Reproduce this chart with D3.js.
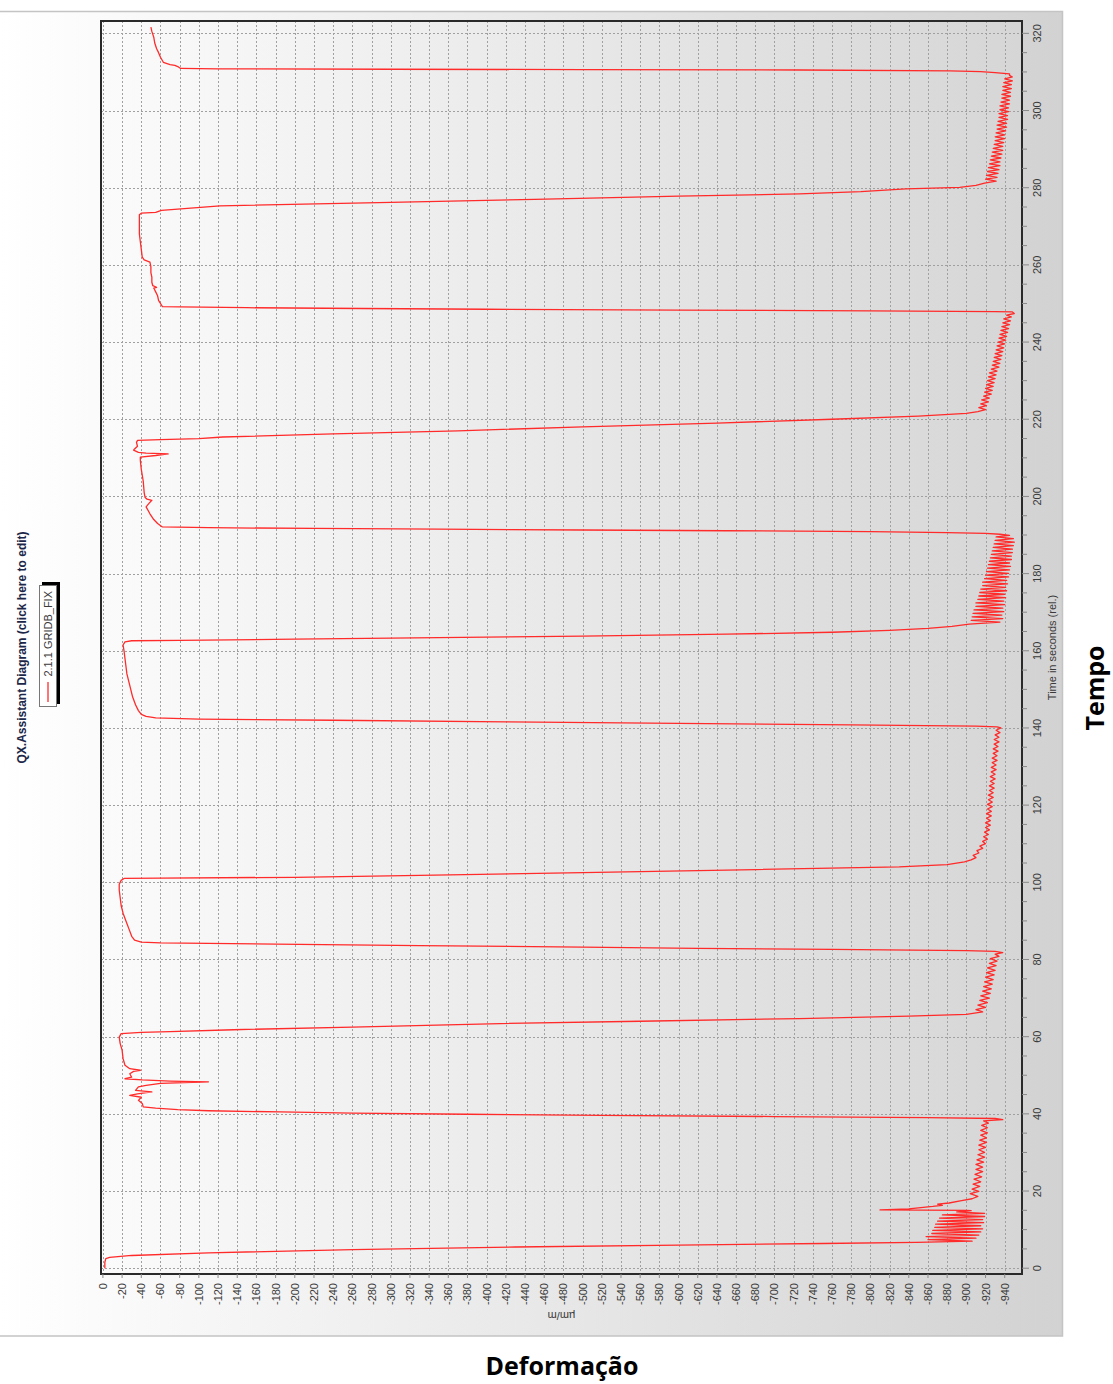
<!DOCTYPE html>
<html>
<head>
<meta charset="utf-8">
<script src="https://cdn.jsdelivr.net/npm/d3@7"></script>
<style>
  body { margin: 0; background: #fff; }
  svg { display: block; font-family: "Liberation Sans", Arial, sans-serif; }
</style>
</head>
<body>
<svg id="chart" width="1113" height="1384"></svg>
<script>
"use strict";

// ticks
const timeTicks = d3.range(0, 321, 20);
const timeMinorTicks = d3.range(0, 321, 5);
const strainTicks = d3.range(0, -941, -20);

// series 2.1.1 GRIDB_FIX : [time in s, strain in µm/m]
const gridbFix = [
  [0.0,-2],[1.5,-2],[2.5,-3],[2.8,-7],[3.3,-30],[4.0,-110],[4.8,-260],[5.5,-430],[6.0,-600],[6.4,-750],[6.7,-848],
  [7.0,-906],[7.4,-860],[7.8,-910],[8.2,-858],[8.6,-913],[9.0,-864],[9.4,-915],[9.8,-865],[10.2,-917],[10.6,-867],
  [11.0,-915],[11.4,-868],[11.8,-918],[12.2,-870],[12.6,-917],[13.0,-872],[13.4,-919],[13.8,-875],[14.2,-919],[14.6,-890],[14.9,-905],
  [15.0,-900],[15.1,-810],[15.4,-840],[16.0,-865],[16.3,-875],[16.6,-870],[16.9,-882],[17.5,-895],[18.0,-906],
  [18.6,-912],[19.3,-904],[19.9,-913],[20.5,-906],[21.2,-914],[21.8,-907],[22.4,-915],[23.1,-908],[23.7,-916],[24.3,-909],
  [25.0,-917],[25.6,-910],[26.2,-917],[26.9,-910],[27.5,-918],[28.1,-911],[28.8,-919],[29.4,-912],[30.0,-919],[30.7,-913],
  [31.3,-920],[31.9,-913],[32.6,-921],[33.2,-914],[33.8,-921],[34.5,-915],[35.1,-922],[35.7,-915],[36.4,-922],[37.0,-916],
  [37.6,-923],[38.2,-918],[38.5,-938],[38.8,-930],
  [39.0,-860],[39.3,-700],[39.6,-520],[39.9,-380],[40.2,-260],[40.5,-185],[40.8,-110],[41.1,-78],[41.5,-55],[41.8,-42],
  [42.7,-41],[43.5,-37],[44.3,-40],[44.8,-28],[45.2,-36],[45.7,-51],[46.1,-34],[47.0,-37],[47.4,-45],[47.9,-60],
  [48.3,-110],[48.5,-70],[48.8,-41],[49.1,-23],[49.5,-30],[50.4,-28],[51.0,-32],[51.3,-39],[51.7,-28],[52.6,-23],
  [54.3,-21],[56.5,-20],[58.2,-18],[59.9,-17],[60.8,-19],
  [61.1,-40],[61.3,-70],[61.8,-136],[62.5,-260],[63.4,-414],[64.0,-560],[64.7,-726],[65.3,-840],[65.8,-900],[66.4,-917],
  [67.0,-910],[67.6,-920],[68.2,-912],[68.8,-922],[69.4,-914],[70.0,-924],[70.6,-915],[71.2,-925],[71.8,-917],[72.4,-926],
  [73.0,-918],[73.6,-927],[74.2,-919],[74.8,-928],[75.4,-920],[76.0,-929],[76.6,-921],[77.2,-930],[77.8,-922],[78.4,-931],
  [79.0,-924],[79.6,-932],[80.2,-925],[80.8,-934],[81.4,-930],[81.8,-938],[82.1,-930],
  [82.3,-900],[82.6,-760],[82.9,-620],[83.2,-500],[83.6,-330],[84.0,-180],[84.3,-60],[84.5,-40],
  [85.0,-33],[86.0,-30],[88.0,-27],[90.0,-24],[92.0,-21],[94.0,-19],[96.0,-18],[98.0,-17],[99.5,-17],[100.5,-19],[101.0,-22],
  [101.1,-60],[101.3,-200],[101.8,-330],[102.5,-500],[103.3,-680],[104.0,-830],[104.6,-880],[105.3,-898],[105.8,-905],
  [106.4,-910],[107.0,-907],[107.6,-913],[108.2,-911],[108.8,-917],[109.4,-914],[110.0,-920],[110.6,-917],[111.2,-922],[111.8,-918],
  [112.4,-923],[113.0,-919],[113.6,-924],[114.2,-920],[114.8,-925],[115.4,-920],[116.0,-925],[116.6,-921],[117.2,-926],[117.8,-921],
  [118.4,-926],[119.0,-922],[119.6,-927],[120.2,-922],[120.8,-927],[121.4,-923],[122.0,-928],[122.6,-923],[123.2,-928],[123.8,-924],
  [124.4,-929],[125.0,-924],[125.6,-929],[126.2,-925],[126.8,-930],[127.4,-925],[128.0,-930],[128.6,-926],[129.2,-931],[129.8,-926],
  [130.4,-931],[131.0,-927],[131.6,-932],[132.2,-927],[132.8,-932],[133.4,-928],[134.0,-933],[134.6,-928],[135.2,-933],[135.8,-929],
  [136.4,-934],[137.0,-929],[137.6,-934],[138.2,-930],[138.8,-935],[139.4,-931],[140.0,-936],[140.3,-932],
  [140.5,-910],[140.8,-780],[141.2,-600],[141.6,-420],[142.0,-240],[142.3,-100],[142.6,-55],
  [143.0,-45],[143.5,-40],[144.5,-37],[146.0,-34],[148.0,-31],[150.0,-29],[152.0,-27],[154.0,-25],[156.0,-24],
  [158.0,-23],[160.0,-22],[161.5,-21],[162.3,-23],[162.6,-30],
  [162.7,-80],[163.0,-200],[163.4,-350],[163.8,-500],[164.3,-650],[164.8,-760],[165.3,-820],[165.8,-860],[166.3,-885],[166.9,-903],
  [167.45,-935],[167.9,-905],[168.35,-938],[168.8,-906],[169.25,-937],[169.7,-907],[170.15,-939],[170.6,-908],[171.05,-938],[171.5,-910],
  [171.95,-940],[172.4,-910],[172.85,-939],[173.3,-912],[173.75,-941],[174.2,-913],[174.65,-940],[175.1,-914],[175.55,-942],[176.0,-915],
  [176.45,-941],[176.9,-917],[177.35,-943],[177.8,-917],[178.25,-942],[178.7,-919],[179.15,-944],[179.6,-920],[180.05,-944],[180.5,-921],
  [180.95,-945],[181.4,-922],[181.85,-946],[182.3,-923],[182.75,-945],[183.2,-924],[183.65,-947],[184.1,-925],[184.55,-947],[185.0,-926],
  [185.45,-948],[185.9,-927],[186.35,-948],[186.8,-928],[187.25,-949],[187.7,-929],[188.15,-950],[188.6,-930],[189.05,-949],[189.5,-931],
  [189.9,-945],[190.2,-935],
  [190.4,-920],[190.6,-880],[190.9,-800],[191.1,-650],[191.3,-500],[191.5,-350],[191.7,-220],[191.9,-110],[192.1,-62],
  [193.0,-57],[194.0,-53],[195.5,-49],[197.3,-45],[198.2,-48],[199.0,-51],[199.3,-46],[199.7,-44],[201.0,-43],[204.0,-42],
  [207.0,-40],[209.3,-39],[210.2,-39],[210.6,-55],[211.0,-68],[211.2,-45],[211.4,-37],[212.0,-32],[212.3,-33],[213.0,-36],
  [214.0,-35],[214.5,-36],
  [214.7,-60],[215.0,-100],[215.4,-125],[216.2,-240],[217.0,-370],[218.0,-500],[219.0,-640],[220.0,-760],[220.8,-850],[221.5,-900],[222.0,-912],
  [222.5,-920],[223.0,-913],[223.5,-921],[224.0,-915],[224.5,-923],[225.0,-916],[225.5,-924],[226.0,-918],[226.5,-926],[227.0,-919],
  [227.5,-927],[228.0,-920],[228.5,-928],[229.0,-921],[229.5,-929],[230.0,-922],[230.5,-930],[231.0,-923],[231.5,-931],[232.0,-924],
  [232.5,-932],[233.0,-926],[233.5,-934],[234.0,-927],[234.5,-935],[235.0,-928],[235.5,-936],[236.0,-929],[236.5,-937],[237.0,-930],
  [237.5,-938],[238.0,-931],[238.5,-939],[239.0,-932],[239.5,-940],[240.0,-933],[240.5,-941],[241.0,-934],[241.5,-942],[242.0,-935],
  [242.5,-943],[243.0,-936],[243.5,-944],[244.0,-937],[244.5,-945],[245.0,-938],[245.5,-946],[246.0,-939],[246.5,-947],[247.0,-942],
  [247.4,-950],[247.8,-948],
  [247.9,-930],[248.1,-800],[248.3,-600],[248.5,-400],[248.7,-270],[248.9,-150],[249.1,-80],[249.2,-62],
  [250.0,-60],[250.8,-58],[252.0,-57],[253.0,-55],[254.0,-53],[254.2,-56],[254.6,-52],[255.5,-51],[256.8,-51],[258.0,-50],
  [259.5,-50],[260.7,-49],[261.3,-43],[262.0,-41],[264.0,-40],[266.0,-39],[268.0,-38],[270.0,-38],[272.0,-38],[273.0,-38],[273.4,-40],
  [273.6,-55],[274.1,-61],[275.3,-122],[276.2,-300],[277.0,-450],[277.8,-600],[278.4,-726],[279.0,-790],[279.7,-837],[280.1,-893],
  [280.6,-910],[281.2,-919],
  [281.7,-931],[282.2,-920],[282.7,-932],[283.2,-921],[283.7,-933],[284.2,-922],[284.7,-934],[285.2,-923],[285.7,-935],[286.2,-924],
  [286.7,-935],[287.2,-925],[287.7,-936],[288.2,-926],[288.7,-937],[289.2,-927],[289.7,-938],[290.2,-928],[290.7,-938],[291.2,-929],
  [291.7,-939],[292.2,-930],[292.7,-940],[293.2,-930],[293.7,-940],[294.2,-931],[294.7,-941],[295.2,-932],[295.7,-942],[296.2,-932],
  [296.7,-942],[297.2,-933],[297.7,-943],[298.2,-934],[298.7,-943],[299.2,-934],[299.7,-944],[300.2,-935],[300.7,-944],[301.2,-935],
  [301.7,-945],[302.2,-936],[302.7,-945],[303.2,-937],[303.7,-946],[304.2,-937],[304.7,-946],[305.2,-938],[305.7,-947],[306.2,-938],
  [306.7,-947],[307.2,-939],[307.7,-948],[308.2,-940],[308.7,-948],[309.1,-945],
  [309.5,-945],[309.8,-930],[310.1,-915],[310.3,-883],[310.5,-727],[310.6,-500],[310.7,-300],[310.8,-120],[310.9,-81],
  [311.4,-78],[311.7,-75],[311.9,-70],[312.5,-63],[313.8,-60],[315.0,-58],[316.0,-56],[317.5,-54],[319.0,-53],[320.5,-51],[321.6,-50]
];



// setting
const setting = {
  panel: { x: 0, y: 11, width: 1063, height: 1325 },
  plot: { left: 101, right: 1022, top: 21, bottom: 1274 },
  lineColor: "#ff2a2a",
  textColor: "#3a3a3a"
};

let svg = d3.select("#chart");
let defs = svg.append("defs");



// gradients
let gPanel = defs.append("linearGradient")
  .attr("id", "panelGrad")
  .attr("x1", "0%").attr("x2", "100%").attr("y1", "0%").attr("y2", "0%");
gPanel.append("stop").attr("offset", "0%").attr("stop-color", "#ffffff");
gPanel.append("stop").attr("offset", "100%").attr("stop-color", "#d2d2d2");

let gPlot = defs.append("linearGradient")
  .attr("id", "plotGrad")
  .attr("x1", "0%").attr("x2", "100%").attr("y1", "0%").attr("y2", "0%");
gPlot.append("stop").attr("offset", "0%").attr("stop-color", "#fbfbfb");
gPlot.append("stop").attr("offset", "100%").attr("stop-color", "#d6d6d6");

defs.append("clipPath")
  .attr("id", "plotClip")
  .append("rect")
  .attr("x", setting.plot.left)
  .attr("y", setting.plot.top)
  .attr("width", setting.plot.right - setting.plot.left)
  .attr("height", setting.plot.bottom - setting.plot.top);



// panel
svg.append("rect")
  .attr("x", setting.panel.x)
  .attr("y", setting.panel.y)
  .attr("width", setting.panel.width)
  .attr("height", setting.panel.height)
  .attr("fill", "url(#panelGrad)");

svg.append("path")
  .attr("d", `M${setting.panel.x},${setting.panel.y + 0.5}H${setting.panel.x + setting.panel.width - 0.5}V${setting.panel.y + setting.panel.height}H${setting.panel.x}`)
  .attr("fill", "none")
  .attr("stroke", "#c4c4c4")
  .attr("stroke-width", 1.5);



// scales
let scaleX = d3.scaleLinear()
  .domain([2, -958])
  .range([setting.plot.left, setting.plot.right]);

let scaleY = d3.scaleLinear()
  .domain([-1.5, 323.2])
  .range([setting.plot.bottom, setting.plot.top]);



// plot background
svg.append("rect")
  .attr("x", setting.plot.left)
  .attr("y", setting.plot.top)
  .attr("width", setting.plot.right - setting.plot.left)
  .attr("height", setting.plot.bottom - setting.plot.top)
  .attr("fill", "url(#plotGrad)");



// grid lines
let grid = svg.append("g").attr("class", "grid").attr("clip-path", "url(#plotClip)");

grid.selectAll("line.vGrid")
  .data(strainTicks)
  .join("line")
  .attr("class", "vGrid")
  .attr("x1", d => Math.round(scaleX(d)) + 0.5)
  .attr("x2", d => Math.round(scaleX(d)) + 0.5)
  .attr("y1", setting.plot.top)
  .attr("y2", setting.plot.bottom)
  .attr("stroke", "#a0a0a0")
  .attr("stroke-width", 1)
  .attr("stroke-dasharray", "2,2");

grid.selectAll("line.hGrid")
  .data(timeTicks)
  .join("line")
  .attr("class", "hGrid")
  .attr("x1", setting.plot.left)
  .attr("x2", setting.plot.right)
  .attr("y1", d => Math.round(scaleY(d)) + 0.5)
  .attr("y2", d => Math.round(scaleY(d)) + 0.5)
  .attr("stroke", "#a0a0a0")
  .attr("stroke-width", 1)
  .attr("stroke-dasharray", "2,2");



// series line
let line = d3.line()
  .x(d => scaleX(d[1]))
  .y(d => scaleY(d[0]));

svg.append("path")
  .datum(gridbFix)
  .attr("clip-path", "url(#plotClip)")
  .attr("d", line)
  .attr("fill", "none")
  .attr("stroke", setting.lineColor)
  .attr("stroke-width", 1.3)
  .attr("stroke-linejoin", "round");



// frame
svg.append("rect")
  .attr("x", setting.plot.left)
  .attr("y", setting.plot.top)
  .attr("width", setting.plot.right - setting.plot.left)
  .attr("height", setting.plot.bottom - setting.plot.top)
  .attr("fill", "none")
  .attr("stroke", "#2a2a2a")
  .attr("stroke-width", 2);



// time axis (right)
let timeAxis = svg.append("g").attr("class", "time_axis");

timeAxis.selectAll("line.minor")
  .data(timeMinorTicks)
  .join("line")
  .attr("class", "minor")
  .attr("x1", setting.plot.right)
  .attr("x2", d => setting.plot.right + (d % 20 === 0 ? 7 : 5))
  .attr("y1", d => scaleY(d))
  .attr("y2", d => scaleY(d))
  .attr("stroke", "#8a8a8a")
  .attr("stroke-width", 1);

timeAxis.selectAll("text")
  .data(timeTicks)
  .join("text")
  .attr("transform", d => `translate(${setting.plot.right + 15}, ${scaleY(d)}) rotate(-90)`)
  .attr("text-anchor", "middle")
  .attr("dominant-baseline", "central")
  .attr("font-size", 11)
  .attr("fill", setting.textColor)
  .text(d => d);

svg.append("text")
  .attr("transform", `translate(${setting.plot.right + 30}, ${(setting.plot.top + setting.plot.bottom) / 2}) rotate(-90)`)
  .attr("text-anchor", "middle")
  .attr("dominant-baseline", "central")
  .attr("font-size", 11)
  .attr("fill", setting.textColor)
  .text("Time in seconds (rel.)");



// strain axis (bottom)
let strainAxis = svg.append("g").attr("class", "strain_axis");

strainAxis.selectAll("line")
  .data(strainTicks)
  .join("line")
  .attr("x1", d => scaleX(d))
  .attr("x2", d => scaleX(d))
  .attr("y1", setting.plot.bottom)
  .attr("y2", setting.plot.bottom + 4)
  .attr("stroke", "#8a8a8a")
  .attr("stroke-width", 1);

strainAxis.selectAll("text")
  .data(strainTicks)
  .join("text")
  .attr("transform", d => `translate(${scaleX(d)}, ${setting.plot.bottom + 9}) rotate(-90)`)
  .attr("text-anchor", "end")
  .attr("dominant-baseline", "central")
  .attr("font-size", 11)
  .attr("fill", setting.textColor)
  .text(d => d);

svg.append("text")
  .attr("transform", `translate(${(setting.plot.left + setting.plot.right) / 2}, ${setting.plot.bottom + 42}) rotate(180)`)
  .attr("text-anchor", "middle")
  .attr("dominant-baseline", "central")
  .attr("font-size", 11)
  .attr("fill", setting.textColor)
  .text("µm/m");



// title
svg.append("text")
  .attr("transform", `translate(22, ${(setting.plot.top + setting.plot.bottom) / 2}) rotate(-90)`)
  .attr("text-anchor", "middle")
  .attr("dominant-baseline", "central")
  .attr("font-size", 12)
  .attr("font-weight", "bold")
  .attr("fill", "#1c2748")
  .text("QX.Assistant Diagram (click here to edit)");



// legend
let legend = svg.append("g").attr("class", "legend");

legend.append("rect")
  .attr("x", 42).attr("y", 582)
  .attr("width", 18).attr("height", 122)
  .attr("fill", "#000");

legend.append("rect")
  .attr("x", 39.5).attr("y", 585.5)
  .attr("width", 17).attr("height", 121)
  .attr("fill", "#fff")
  .attr("stroke", "#777")
  .attr("stroke-width", 1);

legend.append("line")
  .attr("x1", 48).attr("x2", 48)
  .attr("y1", 682).attr("y2", 702)
  .attr("stroke", setting.lineColor)
  .attr("stroke-width", 1.3);

legend.append("text")
  .attr("transform", "translate(48, 591) rotate(-90)")
  .attr("text-anchor", "end")
  .attr("dominant-baseline", "central")
  .attr("font-size", 11)
  .attr("fill", setting.textColor)
  .text("2.1.1 GRIDB_FIX");



// outer captions
svg.append("text")
  .attr("transform", "translate(1094, 688) rotate(-90)")
  .attr("text-anchor", "middle")
  .attr("dominant-baseline", "central")
  .attr("font-size", 25)
  .attr("font-weight", "bold")
  .attr("font-family", "'Open Sans', 'Liberation Sans', sans-serif")
  .attr("fill", "#000")
  .text("Tempo");

svg.append("text")
  .attr("x", 562)
  .attr("y", 1365)
  .attr("text-anchor", "middle")
  .attr("dominant-baseline", "central")
  .attr("font-size", 25)
  .attr("font-weight", "bold")
  .attr("font-family", "'Open Sans', 'Liberation Sans', sans-serif")
  .attr("fill", "#000")
  .text("Deformação");
</script>
</body>
</html>
